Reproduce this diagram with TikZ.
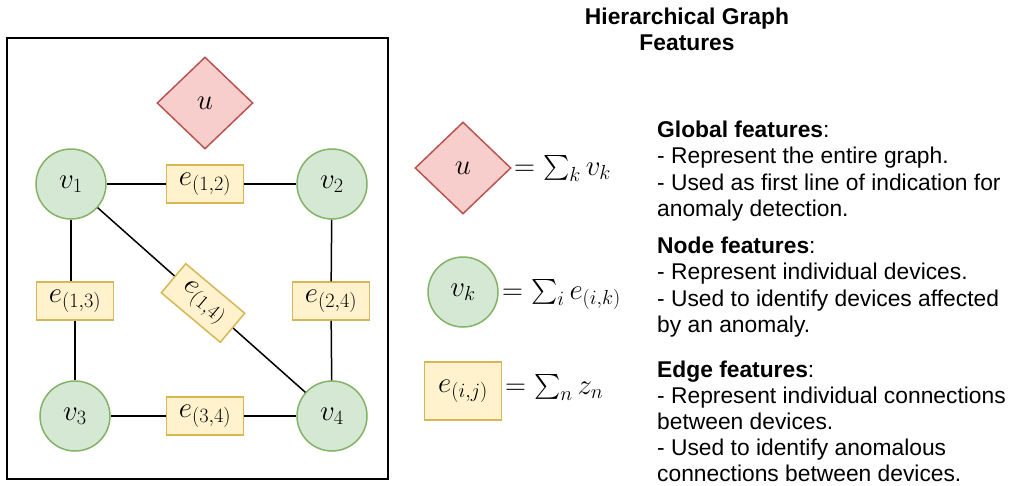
\RequirePackage{fix-cm}
\documentclass[tikz,border=0pt]{standalone}
\usepackage{amsmath}
\usepackage{fontspec}
\newfontfamily\arial{Liberation Sans}
\usetikzlibrary{shapes.geometric}
\definecolor{vfill}{HTML}{D5E8D4}
\definecolor{vline}{HTML}{82B366}
\definecolor{gfill}{HTML}{F8CECC}
\definecolor{gline}{HTML}{B85450}
\definecolor{efill}{HTML}{FFF2CC}
\definecolor{eline}{HTML}{D6B656}
\newcommand{\mathsize}{\fontsize{29}{34}\selectfont}
\newcommand{\bodysize}{\arial\fontsize{22.8}{26.7}\selectfont}
\tikzset{
  vertex/.style={circle, draw=vline, fill=vfill, line width=1.5pt,
    minimum size=70pt, inner sep=0pt, font=\mathsize},
  globalnode/.style={diamond, draw=gline, fill=gfill, line width=1.5pt,
    minimum width=96pt, minimum height=92pt, inner sep=0pt, font=\mathsize},
  edgebox/.style={rectangle, draw=eline, fill=efill, line width=1.5pt,
    minimum width=77pt, minimum height=38pt, inner sep=0pt, font=\mathsize},
  link/.style={line width=1.5pt, draw=black},
  formula/.style={anchor=base west, inner sep=0pt, font=\mathsize},
  bodyline/.style={anchor=base west, inner sep=0pt, font=\bodysize},
  titleline/.style={anchor=base, inner sep=0pt, font=\bodysize\bfseries},
}
\begin{document}
\begin{tikzpicture}[x=1pt, y=-1pt]
\useasboundingbox (0,0) rectangle (1012,485);

% frame around the example graph
\draw[line width=1.5pt] (7,38) rectangle (388,479);

% example graph
\node[globalnode] (u) at (205,103) {$u$};
\node[vertex] (v1) at (71,184) {$v_1$};
\node[vertex] (v2) at (332,184) {$v_2$};
\node[vertex] (v3) at (75,416) {$v_3$};
\node[vertex] (v4) at (332,416) {$v_4$};

\node[edgebox] (e12) at (205,184) {$e_{(1,2)}$};
\node[edgebox] (e13) at (75,301) {$e_{(1,3)}$};
\node[edgebox] (e24) at (331,301) {$e_{(2,4)}$};
\node[edgebox] (e34) at (205,416) {$e_{(3,4)}$};

\draw[link] (v1) -- (e12);
\draw[link] (e12) -- (v2);
\draw[link] (v1.south) -- (v1.south |- e13.north);
\draw[link] (e13) -- (v3);
\draw[link] (v2) -- (e24);
\draw[link] (e24) -- (v4);
\draw[link] (v3) -- (e34);
\draw[link] (e34) -- (v4);
\draw[link] (v1) -- (v4);
\node[edgebox, rotate=-40] (e14) at (203,303) {$e_{(1,4)}$};

% legend
\node[globalnode] (lu) at (463,168) {$u$};
\node[vertex] (lv) at (463,292) {$v_k$};
\node[edgebox, minimum height=58pt] (le) at (463,391) {$e_{(i,j)}$};
\node[formula] (fu) at (514,175) {$=\sum_k v_k$};
\node[formula] (fv) at (502,299) {$=\sum_i e_{(i,k)}$};
\node[formula] (fe) at (505,394) {$=\sum_n z_n$};

% title
\node[titleline] (t1) at (687,24) {Hierarchical Graph};
\node[titleline] (t2) at (687,50) {Features};

% descriptions
\foreach \yy/\txt [count=\k] in {
  137/{\textbf{Global features}:},
  163.5/{- Represent the entire graph.},
  190/{- Used as first line of indication for},
  216.5/{anomaly detection.},
  253/{\textbf{Node features}:},
  279.5/{- Represent individual devices.},
  306/{- Used to identify devices affected},
  332.5/{by an anomaly.},
  377/{\textbf{Edge features}:},
  403/{- Represent individual connections},
  429.5/{between devices.},
  455.5/{- Used to identify anomalous},
  481/{connections between devices.}}
  \node[bodyline] (line\k) at (657,\yy) {\txt};

\end{tikzpicture}
\end{document}
